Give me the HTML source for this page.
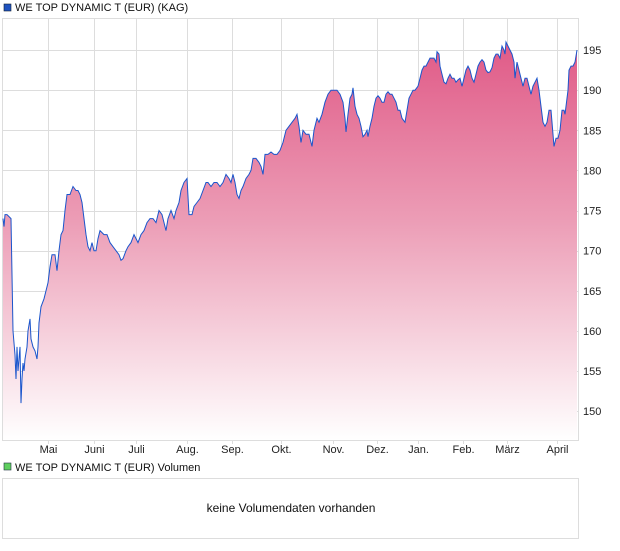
<!DOCTYPE html>
<html><head><meta charset="utf-8"><style>
body{margin:0;background:#fff;font-family:"Liberation Sans",sans-serif;}
svg text{font-family:"Liberation Sans",sans-serif;}
</style></head><body>
<svg id="c" width="620" height="546" xmlns="http://www.w3.org/2000/svg">
<defs><linearGradient id="g" x1="0" y1="0" x2="0" y2="1">
<stop offset="0" stop-color="#e05a87"/><stop offset="0.45" stop-color="#ec9db6"/><stop offset="1" stop-color="#ffffff"/>
</linearGradient></defs>
<rect x="4" y="4" width="7" height="7" fill="#1f52bf" stroke="#123" stroke-width="0.6"/>
<text x="15" y="11" font-size="11" fill="#111">WE TOP DYNAMIC T (EUR) (KAG)</text>
<rect x="2.5" y="18.5" width="576" height="422" fill="#fff" stroke="#ddd"/>
<g id="grid"></g>
<g id="marks"></g>
<g id="axes"></g>
<rect x="4" y="463" width="7" height="7" fill="#5fcf5f" stroke="#234" stroke-width="0.6"/>
<text x="15" y="471" font-size="11" fill="#111">WE TOP DYNAMIC T (EUR) Volumen</text>
<rect x="2.5" y="478.5" width="576" height="60" fill="#fff" stroke="#ddd"/>
<text x="291" y="512" font-size="12" fill="#111" text-anchor="middle">keine Volumendaten vorhanden</text>
</svg>
<script>
const days=[0,1,2,4,8,9,10,12,13,14,15,17,18,19,20,21,22,24,25,27,28,30,32,34,35,36,38,41,43,45,47,49,52,54,56,58,60,62,64,67,70,73,75,77,79,81,83,85,87,89,91,93,95,97,101,104,107,110,113,116,118,120,123,125,128,131,133,135,138,141,144,147,150,153,156,159,161,163,165,168,171,173,176,178,181,184,186,189,191,194,197,200,203,205,208,211,214,217,220,223,226,228,230,232,234,236,238,240,243,246,248,250,253,256,258,260,262,265,268,271,274,277,280,283,286,289,292,294,296,298,300,303,306,309,311,314,316,319,322,325,328,331,334,337,340,342,343,345,347,349,350,352,354,356,358,360,362,364,365,367,369,371,373,375,377,379,381,383,385,387,389,391,393,395,397,399,402,404,406,408,410,412,415,417,419,421,423,425,427,429,431,433,434,436,437,439,441,443,445,447,449,451,453,455,457,459,461,463,465,467,469,471,473,475,477,479,481,483,485,487,489,491,493,495,497,499,501,502,503,505,507,509,511,512,514,516,518,520,522,524,526,528,530,532,534,536,538,540,542,544,546,548,549,551,553,555,557,559,561,562,563,565,566,568,570,572,574];
const values=[174,173,174.5,174.5,174,167,160,157,154,158,155,158,151,154,156,155,156.5,158,160,161.5,159,158,157.5,156.5,158,161,163,164,165,166,168,169.5,169.5,167.5,170,172,172.5,175,177,177,178,177.5,177.5,177,176,174,172,170.5,170,171,170,170,171.5,172.5,172,172,171,170.5,170,169.5,168.8,169,170,170.5,171,172,171.5,171,172,172.5,173.5,174,174,173.5,175,174.5,173.5,172.5,174,175,174,175,176,177.5,178.5,179,174.5,174.5,175.5,176,176.5,177.5,178.5,178.5,178,178.5,178.5,178,178.5,179.5,179,178.5,179.5,178.5,177,176.5,177.5,178,179,179.5,180,181.5,181.5,181,180.5,179.5,182,182,182.3,182,182,182.5,183.5,185,185.5,186,186.5,187,185.5,183.5,185,184.5,184.5,183,185,186.5,186,187,188.5,189.5,190,190,190,189.5,188.5,186.5,184.8,187,189,189.5,190.3,188,187,186.5,185.5,184.2,184.5,185,184.2,185.5,186.5,188,189,189.3,189,188.5,188.5,189.5,189.8,189.5,189.5,189,188.5,187.5,187.5,186.5,186,187.5,189,189.5,190,190,190.5,191.5,192.5,193,193,193.5,194,194,194,193.5,194.8,194.5,193,192,191,190.8,191.5,192,191.5,191.5,191,191.3,191.5,190.5,191.5,192.5,193,192.5,191.5,191,192,193,193.5,193.8,193.5,192.5,192.2,192.3,192.8,194,194.5,194.5,194,195.5,195,194.5,196,195.5,195,194.5,193.5,191.5,193.5,192.5,191.5,190.5,191.5,191.5,190.5,189.5,190.5,191,191.5,190,188,186,185.5,186,187.5,187.5,186,183,184,184,185,187.5,187.5,187,188,190,192.5,193,193,193.5,195];
const yTicks=[150,155,160,165,170,175,180,185,190,195];
const monthLabels=["Mai","Juni","Juli","Aug.","Sep.","Okt.","Nov.","Dez.","Jan.","Feb.","März","April"];
const monthDays=[45,91,133,184,229,278,330,374,415,460,504,554];
const NS="http://www.w3.org/2000/svg";
const X0=3,X1=577,Y0=440,Y1=18,VMIN=146.4,VMAX=199;
const xs=d=>X0+(d/574)*(X1-X0);
const ys=v=>Y0-(v-VMIN)/(VMAX-VMIN)*(Y0-Y1);
function mk(t,a,p){const e=document.createElementNS(NS,t);for(const k in a)e.setAttribute(k,a[k]);p.appendChild(e);return e;}
const grid=document.getElementById('grid'),marks=document.getElementById('marks'),axes=document.getElementById('axes');
yTicks.forEach(v=>{
 const l=mk('line',{x1:3,x2:578,y1:Math.round(ys(v))+0.5,y2:Math.round(ys(v))+0.5,stroke:'#ddd'},grid);
 
 
 const t=mk('text',{x:583,y:ys(v)+4,'font-size':11,fill:'#222'},axes);t.textContent=v;
 
 
});
monthDays.forEach((d,i)=>{
 const x=Math.round(xs(d))+0.5;
 const l=mk('line',{x1:x,x2:x,y1:19,y2:444,stroke:'#ddd'},grid);
 
 
 const t=mk('text',{x:x,y:453,'font-size':11,fill:'#222','text-anchor':'middle'},axes);t.textContent=monthLabels[i];
 
 
});
let pts=days.map((d,i)=>xs(d).toFixed(1)+','+ys(values[i]).toFixed(1));
const area=mk('path',{d:'M'+xs(days[0])+','+Y0+' L'+pts.join(' L')+' L'+xs(days[days.length-1])+','+Y0+' Z',fill:'url(#g)'},marks);


const line=mk('polyline',{points:pts.join(' '),fill:'none',stroke:'#1a55cc','stroke-width':1},marks);


</script>
</body></html>
